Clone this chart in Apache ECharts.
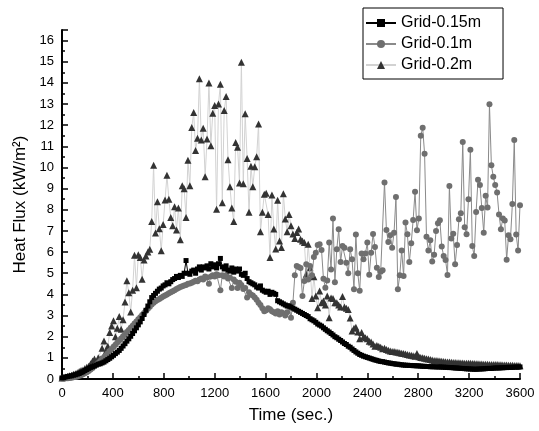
<!DOCTYPE html>
<html>
<head>
<meta charset="utf-8">
<script src="https://cdn.jsdelivr.net/npm/echarts@6/dist/echarts.min.js"></script>
<style>
  html, body { margin: 0; background: #fff; }
  #chart { width: 539px; height: 431px; }
</style>
</head>
<body>
<div id="chart"></div>
<script>
// samples every 15 s, 0..3600 s
const STEP = 15;

const grid015 = [
  0.05, 0.06, 0.1, 0.12, 0.14, 0.15, 0.18, 0.2, 0.23, 0.26,
  0.3, 0.34, 0.4, 0.45, 0.5, 0.55, 0.58, 0.62, 0.66, 0.7,
  0.72, 0.76, 0.8, 0.86, 0.92, 0.98, 1.05, 1.12, 1.2, 1.27,
  1.35, 1.45, 1.56, 1.67, 1.79, 1.9, 2.02, 2.15, 2.28, 2.42,
  2.56, 2.7, 2.86, 3.05, 3.25, 3.45, 3.65, 3.85, 3.95, 4.05,
  4.15, 4.25, 4.3, 4.4, 4.45, 4.55, 4.5, 4.6, 4.7, 4.75,
  4.85, 4.8, 4.9, 4.85, 5.0, 5.6, 5.0, 4.95, 5.1, 5.15,
  5.0, 5.2, 5.3, 5.15, 5.3, 5.25, 5.35, 5.2, 5.45, 5.3,
  5.4, 5.25, 5.45, 5.7, 5.3, 5.2, 5.35, 5.15, 5.1, 5.25,
  5.05, 5.2, 5.1, 5.2, 4.95, 4.9, 5.0, 4.75, 4.6, 4.55,
  4.5, 4.45, 4.35, 4.3, 4.4, 4.2, 4.15, 4.1, 4.15, 4.0,
  4.1, 4.05, 4.0, 3.7, 3.65, 3.6, 3.55, 3.5, 3.45, 3.45,
  3.4, 3.35, 3.3, 3.25, 3.2, 3.15, 3.1, 3.05, 3.0, 2.95,
  2.85, 2.8, 2.75, 2.68, 2.6, 2.55, 2.5, 2.42, 2.35, 2.28,
  2.22, 2.15, 2.08, 2.0, 1.95, 1.88, 1.82, 1.75, 1.68, 1.63,
  1.55, 1.5, 1.42, 1.35, 1.28, 1.22, 1.16, 1.12, 1.08, 1.05,
  1.02, 0.99, 0.96, 0.93, 0.9, 0.88, 0.85, 0.83, 0.82, 0.8,
  0.78, 0.76, 0.75, 0.73, 0.72, 0.7, 0.7, 0.68, 0.67, 0.66,
  0.65, 0.65, 0.64, 0.64, 0.63, 0.63, 0.62, 0.62, 0.61, 0.6,
  0.6, 0.59, 0.59, 0.58, 0.58, 0.58, 0.57, 0.57, 0.57, 0.56,
  0.56, 0.55, 0.55, 0.54, 0.54, 0.53, 0.52, 0.52, 0.51, 0.5,
  0.5, 0.49, 0.48, 0.48, 0.47, 0.47, 0.46, 0.46, 0.47, 0.47,
  0.48, 0.48, 0.49, 0.5, 0.5, 0.5, 0.51, 0.52, 0.52, 0.52,
  0.53, 0.53, 0.54, 0.54, 0.55, 0.55, 0.55, 0.56, 0.56, 0.56,
  0.57
];

const grid01 = [
  0.02, 0.02, 0.03, 0.04, 0.05, 0.06, 0.08, 0.1, 0.12, 0.15,
  0.18, 0.22, 0.27, 0.32, 0.38, 0.45, 0.52, 0.6, 0.68, 0.76,
  0.85, 0.94, 1.03, 1.12, 1.22, 1.32, 1.42, 1.52, 1.62, 1.72,
  1.82, 1.92, 2.02, 2.12, 2.22, 2.32, 2.42, 2.52, 2.62, 2.72,
  2.82, 2.92, 3.02, 3.12, 3.22, 3.32, 3.42, 3.52, 3.6, 3.67,
  3.73, 3.78, 3.84, 3.9, 3.95, 4.0, 4.05, 4.1, 4.15, 4.2,
  4.25, 4.3, 4.35, 4.38, 4.42, 4.45, 4.5, 4.52, 4.55, 4.6,
  4.65, 4.62, 4.7, 4.75, 4.7, 4.85, 4.8, 4.5, 4.85, 4.9,
  4.85, 4.95, 4.9, 4.2, 4.9, 4.85, 4.9, 4.75, 4.8, 4.3,
  4.7, 4.6, 4.3, 4.55, 4.45, 4.25, 4.3, 3.85, 4.1, 4.0,
  3.95, 3.85, 3.75, 3.6, 3.5, 3.35, 3.2, 3.25, 3.35, 3.3,
  3.2, 3.15, 3.1, 3.2, 3.05, 3.15, 3.1, 3.0, 3.15, 3.45,
  2.9, 3.6, 4.9, 5.34, 5.3, 5.25, 3.92, 4.63, 5.42, 4.7,
  5.34, 4.9, 5.77, 5.97, 6.34, 6.37, 6.1, 4.74, 4.32, 4.66,
  6.45, 5.18, 7.59, 4.58, 6.13, 7.08, 5.53, 6.29, 6.21, 5.5,
  5.0, 6.13, 5.66, 4.24, 6.83, 5.0, 4.17, 5.93, 5.66, 5.93,
  6.45, 4.93, 5.97, 6.86, 6.24, 5.26, 4.82, 5.07, 5.14, 9.29,
  7.05, 6.48, 6.8, 6.21, 6.92, 8.61, 4.24, 4.9, 6.08, 4.87,
  7.4, 6.84, 5.53, 6.42, 7.52, 8.85, 7.03, 7.59, 11.5, 11.88,
  10.65, 6.72, 6.08, 6.56, 5.56, 5.88, 7.0, 7.36, 7.51, 6.26,
  5.82, 5.63, 4.92, 9.13, 6.64, 6.87, 5.42, 6.34, 7.55, 7.84,
  11.2, 7.17, 6.84, 8.5, 10.84, 6.29, 5.82, 7.9, 9.42, 9.17,
  8.08, 6.92, 8.66, 8.11, 12.99, 10.11, 9.56, 9.17, 8.82, 7.78,
  7.08, 7.59, 7.49, 5.64, 6.8, 6.61, 8.27, 11.3, 6.83, 6.08,
  8.22
];

const grid02 = [
  0.05, 0.07, 0.1, 0.12, 0.15, 0.18, 0.22, 0.25, 0.3, 0.35,
  0.4, 0.42, 0.5, 0.55, 0.6, 0.72, 0.85, 0.95, 0.8, 1.0,
  0.95, 1.45, 1.8, 1.3, 1.55, 2.2, 2.5, 2.75, 2.0, 2.4,
  2.95, 2.35, 2.8, 3.64, 4.64, 4.08, 3.17, 4.2, 5.85, 4.32,
  5.88, 5.75, 4.72, 5.63, 5.82, 6.01, 6.14, 7.45, 10.1, 6.9,
  8.38, 7.1, 6.06, 7.3, 8.46, 9.63, 8.5, 7.64, 7.24, 8.14,
  7.04, 8.08, 6.58, 9.14, 9.0, 7.64, 10.34, 9.14, 11.89, 12.6,
  10.8, 11.38, 14.2, 11.3, 11.86, 9.56, 11.35, 14.0, 11.03, 12.57,
  12.93, 8.02, 13.0, 13.94, 8.33, 12.7, 13.36, 10.37, 9.09, 8.08,
  7.45, 11.18, 10.96, 9.27, 14.97, 9.23, 12.54, 10.42, 7.88, 10.06,
  9.09, 10.04, 10.51, 12.06, 6.96, 7.88, 8.73, 8.78, 7.78, 5.74,
  8.7, 7.09, 6.15, 8.45, 6.53, 6.22, 8.76, 7.57, 6.96, 7.78,
  7.24, 6.85, 6.64, 6.93, 7.09, 6.61, 6.52, 6.45, 4.95, 6.37,
  5.26, 3.8, 4.84, 3.92, 3.37, 4.16, 3.61, 3.69, 3.5, 3.92,
  2.9, 3.83, 3.8, 3.61, 3.6, 3.5, 3.4, 3.9, 3.4, 3.35,
  3.29, 2.88, 2.27, 2.4, 2.45, 2.22, 1.9, 2.2, 2.0, 1.95,
  1.9, 1.79, 1.75, 1.65, 1.55, 1.58, 1.55, 1.5, 1.43, 1.45,
  1.4, 1.36, 1.32, 1.3, 1.3, 1.28, 1.26, 1.24, 1.22, 1.2,
  1.18, 1.16, 1.14, 1.12, 1.1, 1.08, 1.2, 1.05, 1.02, 1.0,
  0.98, 0.96, 0.94, 0.92, 0.9, 0.88, 0.87, 0.86, 0.85, 0.84,
  0.83, 0.82, 0.8, 0.8, 0.79, 0.78, 0.78, 0.77, 0.77, 0.76,
  0.76, 0.75, 0.75, 0.74, 0.74, 0.73, 0.73, 0.72, 0.72, 0.71,
  0.71, 0.7, 0.7, 0.7, 0.69, 0.69, 0.68, 0.68, 0.68, 0.67,
  0.67, 0.66, 0.66, 0.66, 0.65, 0.65, 0.65, 0.64, 0.64, 0.64,
  0.63
];

const legendNames = ['Grid-0.15m', 'Grid-0.1m', 'Grid-0.2m'];

const FONT = 'Liberation Sans, Arial, sans-serif';

function toPairs(arr) {
  return arr.map((v, i) => [i * STEP, v]);
}

const chart = echarts.init(document.getElementById('chart'));

chart.setOption({
  animation: false,
  backgroundColor: '#fff',
  textStyle: { fontFamily: FONT },
  grid: { left: 62, right: 19, top: 30, bottom: 52, containLabel: false },
  legend: {
    data: legendNames,
    orient: 'vertical',
    left: 363,
    top: 8,
    padding: [7, 22, 6, 2],
    itemGap: 5,
    itemWidth: 30,
    itemHeight: 10,
    borderColor: '#000',
    borderWidth: 1,
    borderRadius: 0,
    textStyle: { fontSize: 16, color: '#000', fontFamily: FONT }
  },
  xAxis: {
    type: 'value',
    min: 0,
    max: 3600,
    interval: 400,
    name: 'Time (sec.)',
    nameLocation: 'middle',
    nameGap: 28,
    nameTextStyle: { fontSize: 17, color: '#000' },
    axisLine: { lineStyle: { color: '#000', width: 2 } },
    axisTick: { inside: true, length: 6, lineStyle: { color: '#000', width: 1.5 } },
    minorTick: { show: true, splitNumber: 2, length: 3, lineStyle: { color: '#000', width: 1.5 } },
    axisLabel: { fontSize: 13, color: '#000', margin: 8, formatter: v => String(v) },
    splitLine: { show: false }
  },
  yAxis: {
    type: 'value',
    min: 0,
    max: 16.5,
    interval: 1,
    name: 'Heat Flux (kW/m²)',
    nameLocation: 'middle',
    nameGap: 32,
    nameTextStyle: { fontSize: 17, color: '#000' },
    axisLine: { lineStyle: { color: '#000', width: 2 } },
    axisTick: { inside: true, length: 6, lineStyle: { color: '#000', width: 1.5 } },
    minorTick: { show: true, splitNumber: 2, length: 3, lineStyle: { color: '#000', width: 1.5 } },
    axisLabel: {
      fontSize: 13,
      color: '#000',
      margin: 8,
      formatter: v => (Number.isInteger(v) ? String(v) : '')
    },
    splitLine: { show: false }
  },
  series: [
    {
      name: 'Grid-0.2m',
      type: 'line',
      data: toPairs(grid02),
      symbol: 'triangle',
      symbolSize: 7,
      itemStyle: { color: '#333' },
      lineStyle: { color: '#d2d2d2', width: 1 },
      z: 2
    },
    {
      name: 'Grid-0.1m',
      type: 'line',
      data: toPairs(grid01),
      symbol: 'circle',
      symbolSize: 6,
      itemStyle: { color: '#6f6f6f' },
      lineStyle: { color: '#8a8a8a', width: 1 },
      z: 3
    },
    {
      name: 'Grid-0.15m',
      type: 'line',
      data: toPairs(grid015),
      symbol: 'rect',
      symbolSize: 5,
      itemStyle: { color: '#000' },
      lineStyle: { color: '#000', width: 1 },
      z: 4
    }
  ]
});
</script>
</body>
</html>
